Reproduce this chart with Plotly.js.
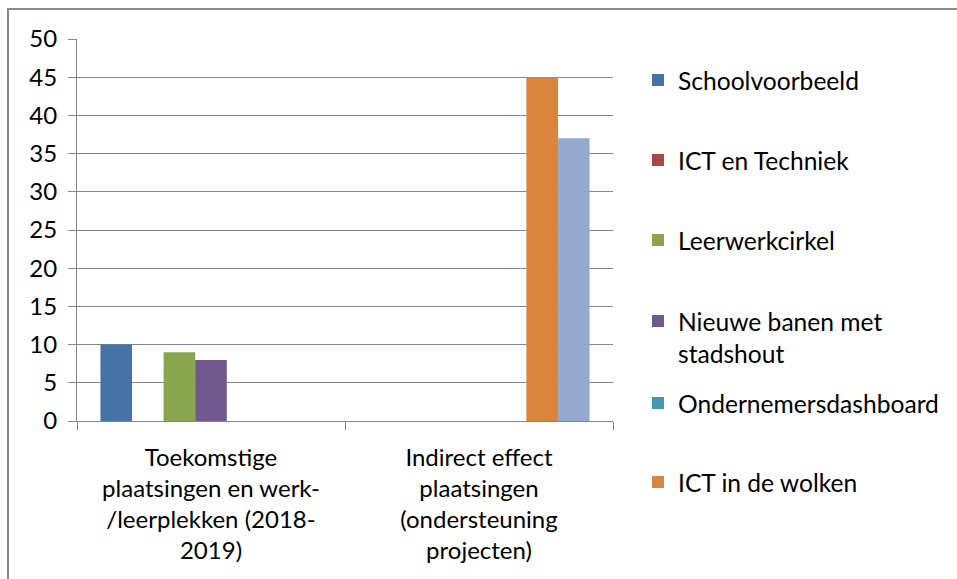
<!DOCTYPE html>
<html>
<head>
<meta charset="utf-8">
<script src="https://cdn.plot.ly/plotly-3.0.1.min.js"></script>
<style>
  html, body { margin: 0; padding: 0; background: #fff; overflow: hidden; }
  #chart { position: absolute; left: 0; top: 0; width: 957px; height: 579px; }
  #frame { position: absolute; left: 7px; top: 8px; width: 1000px; height: 1000px;
           border-left: 2px solid #8a8a8a; border-top: 2px solid #8a8a8a; pointer-events: none; }
</style>
</head>
<body>
<div id="chart"></div>
<div id="frame"></div>
<script>
const categories = [
  "Toekomstige<br>plaatsingen en werk-<br>/leerplekken (2018-<br>2019)",
  "Indirect effect<br>plaatsingen<br>(ondersteuning<br>projecten)"
];
const seriesNames = [
  "Schoolvoorbeeld",
  "ICT en Techniek",
  "Leerwerkcirkel",
  "Nieuwe banen met<br>stadshout",
  "Ondernemersdashboard",
  "ICT in de wolken",
  "Serie 7"
];
const schoolvoorbeeld = [10, 0];
const ictEnTechniek = [0, 0];
const leerwerkcirkel = [9, 0];
const nieuweBanen = [8, 0];
const ondernemersdashboard = [0, 0];
const ictInDeWolken = [0, 45];
const serie7 = [0, 37];
const seriesValues = [schoolvoorbeeld, ictEnTechniek, leerwerkcirkel, nieuweBanen, ondernemersdashboard, ictInDeWolken, serie7];
const colors = ["#4572A7", "#AA4643", "#89A54E", "#71588F", "#4198AF", "#DB843D", "#93A9CF"];

const FONT = "Lato, 'Open Sans', sans-serif";
const FS = 24;
const LFS = 24.6;

const legendIds = ["legend", "legend2", "legend3", "legend4", "legend5", "legend6"];
const legendCenters = [80, 160, 240, 337, 403, 482];

const traces = seriesValues.map((vals, i) => ({
  type: "bar",
  name: seriesNames[i],
  x: categories,
  y: vals,
  marker: { color: colors[i], line: { width: 0 } },
  showlegend: i < 6,
  legend: i < 6 ? legendIds[i] : undefined,
  hoverinfo: "skip"
}));

const layout = {
  width: 957,
  height: 579,
  margin: { l: 77, r: 344, t: 39, b: 158, pad: 0 },
  paper_bgcolor: "#ffffff",
  plot_bgcolor: "#ffffff",
  font: { family: FONT, size: FS, color: "#000000" },
  barmode: "group",
  bargap: 0.175,
  bargroupgap: 0,
  showlegend: true,
  xaxis: {
    type: "category",
    showline: true,
    linecolor: "#868686",
    linewidth: 1,
    ticks: "outside",
    tickson: "boundaries",
    ticklen: 8,
    tickcolor: "#868686",
    showgrid: false,
    tickfont: { family: FONT, size: FS, color: "#000" },
    tickangle: 0,
    ticklabelstandoff: 15
  },
  yaxis: {
    range: [0, 50],
    dtick: 5,
    tick0: 0,
    showline: true,
    linecolor: "#868686",
    linewidth: 1,
    ticks: "outside",
    ticklen: 8,
    tickcolor: "#868686",
    showgrid: true,
    gridcolor: "#868686",
    gridwidth: 1,
    zeroline: false,
    tickfont: { family: FONT, size: FS, color: "#000" },
    ticklabelstandoff: 6
  }
};

legendIds.forEach((id, i) => {
  layout[id] = {
    xref: "container",
    yref: "container",
    x: 638 / 957,
    xanchor: "left",
    y: 1 - legendCenters[i] / 579,
    yanchor: "middle",
    bgcolor: "rgba(0,0,0,0)",
    borderwidth: 0,
    font: { family: FONT, size: LFS, color: "#000" },
    valign: i === 3 ? "top" : "middle",
    itemclick: false,
    itemdoubleclick: false
  };
});

Plotly.newPlot("chart", traces, layout, { displayModeBar: false, staticPlot: true });
</script>
</body>
</html>
